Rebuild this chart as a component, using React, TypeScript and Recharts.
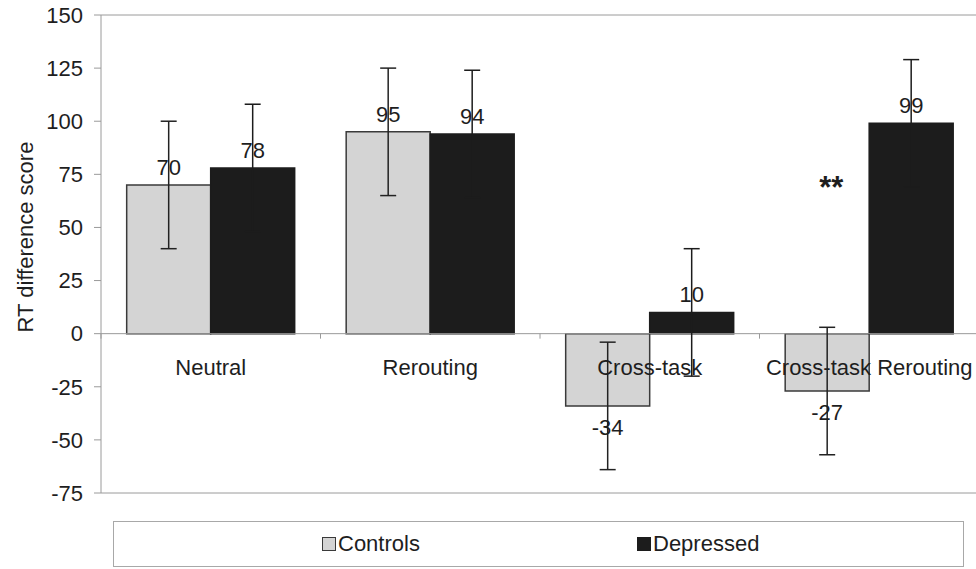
import React from 'react';
import {
  ComposedChart,
  Bar,
  XAxis,
  YAxis,
  ErrorBar,
  LabelList,
  ReferenceLine,
  ReferenceDot,
} from 'recharts';

const categories = ['Neutral', 'Rerouting', 'Cross-task', 'Cross-task Rerouting'];
const controls = [70, 95, -34, -27];
const depressed = [78, 94, 10, 99];
const controlsErr = [30, 30, 30, 30];
const depressedErr = [30, 30, 30, 30];
const yTicks = [-75, -50, -25, 0, 25, 50, 75, 100, 125, 150];
const seriesNames = ['Controls', 'Depressed'];
const sigCategory = 'Cross-task Rerouting';
const sigText = '**';
const sigLevel = 72;

const data = categories.map((c, i) => ({
  name: c,
  controls: controls[i],
  depressed: depressed[i],
  cErr: controlsErr[i],
  dErr: depressedErr[i],
}));

const FONT = '"Liberation Sans", Arial, sans-serif';
const FS = 22;
const CHART_W = 980;
const CHART_H = 569;
const X_AXIS_H = 30;
const MARGIN = { top: 15, right: 1, bottom: 76 - X_AXIS_H, left: 0 };
const Y_AXIS_W = 101;
const YMIN = -75;
const YMAX = 150;
const PLOT_H = CHART_H - MARGIN.top - MARGIN.bottom - X_AXIS_H;
const PLOT_W = CHART_W - MARGIN.left - MARGIN.right - Y_AXIS_W;
const CAT_W = PLOT_W / categories.length;
const ZERO_Y = MARGIN.top + (PLOT_H * YMAX) / (YMAX - YMIN);

const GRAY_LINE = '#9a9a9a';
const TEXT = '#1e1e1e';

const CatTick = (props: any) => {
  const { x, payload, index } = props;
  const left = x - CAT_W / 2;
  return (
    <g>
      <line x1={left} x2={left} y1={ZERO_Y} y2={ZERO_Y + 5} stroke={GRAY_LINE} strokeWidth={1} />
      {index === categories.length - 1 && (
        <line x1={x + CAT_W / 2} x2={x + CAT_W / 2} y1={ZERO_Y} y2={ZERO_Y + 5} stroke={GRAY_LINE} />
      )}
      <text x={x} y={ZERO_Y + 41} textAnchor="middle" fontSize={FS} fontFamily={FONT} fill={TEXT}>
        {payload.value}
      </text>
    </g>
  );
};

const ValueLabel = (props: any) => {
  const { x, y, width, height, value } = props;
  const top = Math.min(y, y + height);
  const bottom = Math.max(y, y + height);
  const cx = x + width / 2;
  const ty = value >= 0 ? top - 10 : bottom + 29;
  return (
    <text x={cx} y={ty} textAnchor="middle" fontSize={FS} fontFamily={FONT} fill={TEXT}>
      {value}
    </text>
  );
};

const YLabel = (props: any) => {
  const { viewBox } = props;
  const cx = viewBox.x + 33;
  const cy = viewBox.y + viewBox.height / 2 - 17;
  return (
    <text
      x={cx}
      y={cy}
      transform={`rotate(-90, ${cx}, ${cy})`}
      textAnchor="middle"
      fontSize={FS}
      fontFamily={FONT}
      fill={TEXT}
    >
      RT difference score
    </text>
  );
};

const SigLabel = (props: any) => {
  const { viewBox } = props;
  const cx = viewBox.x + viewBox.width / 2 - 38;
  const cy = viewBox.y + viewBox.height / 2 + 17;
  return (
    <text x={cx} y={cy} textAnchor="middle" fontSize={31} fontWeight="bold" fontFamily={FONT} fill={TEXT}>
      {sigText}
    </text>
  );
};

export default function App() {
  return (
    <div style={{ position: 'absolute', left: 0, top: 0, width: 976, height: 569, overflow: 'hidden', background: '#fff' }}>
      <ComposedChart
        width={CHART_W}
        height={CHART_H}
        data={data}
        margin={MARGIN}
        barGap={0}
        barCategoryGap="11.7%"
      >
        <XAxis
          dataKey="name"
          height={X_AXIS_H}
          axisLine={false}
          tickLine={false}
          tick={<CatTick />}
          interval={0}
        />
        <YAxis
          width={Y_AXIS_W}
          domain={[YMIN, YMAX]}
          ticks={yTicks}
          interval={0}
          allowDataOverflow
          axisLine={{ stroke: GRAY_LINE, strokeWidth: 1 }}
          tickLine={{ stroke: GRAY_LINE, strokeWidth: 1 }}
          tickSize={7}
          tickMargin={11}
          tick={{ fontSize: FS, fontFamily: FONT, fill: TEXT }}
          label={<YLabel />}
        />
        <ReferenceLine y={YMAX} stroke={GRAY_LINE} strokeWidth={1} />
        <ReferenceLine y={YMIN} stroke={GRAY_LINE} strokeWidth={1} />
        <ReferenceLine y={0} stroke={GRAY_LINE} strokeWidth={1} />
        <Bar dataKey="controls" name={seriesNames[0]} fill="#d4d4d4" stroke="#3a3a3a" strokeWidth={1.5} isAnimationActive={false}>
          <ErrorBar dataKey="cErr" width={8} stroke="#222" strokeWidth={1.5} direction="y" />
          <LabelList dataKey="controls" content={<ValueLabel />} />
        </Bar>
        <Bar dataKey="depressed" name={seriesNames[1]} fill="#1c1c1c" stroke="#1c1c1c" strokeWidth={1.5} isAnimationActive={false}>
          <ErrorBar dataKey="dErr" width={8} stroke="#1c1c1c" strokeWidth={1.5} direction="y" />
          <LabelList dataKey="depressed" content={<ValueLabel />} />
        </Bar>
        <ReferenceDot x={sigCategory} y={sigLevel} r={0} fill="none" stroke="none" label={<SigLabel />} />
      </ComposedChart>
      <div
        style={{
          position: 'absolute',
          left: 113,
          top: 521,
          width: 849,
          height: 44,
          border: '1px solid #a8a8a8',
          fontFamily: FONT,
          fontSize: 22,
          color: TEXT,
        }}
      >
        <div style={{ position: 'absolute', left: 208, top: 9, display: 'flex', alignItems: 'center' }}>
          <span style={{ display: 'inline-block', width: 12, height: 12, background: '#d4d4d4', border: '1px solid #3a3a3a', marginRight: 2 }} />
          <span>{seriesNames[0]}</span>
        </div>
        <div style={{ position: 'absolute', left: 523, top: 9, display: 'flex', alignItems: 'center' }}>
          <span style={{ display: 'inline-block', width: 12, height: 12, background: '#1c1c1c', border: '1px solid #1c1c1c', marginRight: 2 }} />
          <span>{seriesNames[1]}</span>
        </div>
      </div>
    </div>
  );
}
